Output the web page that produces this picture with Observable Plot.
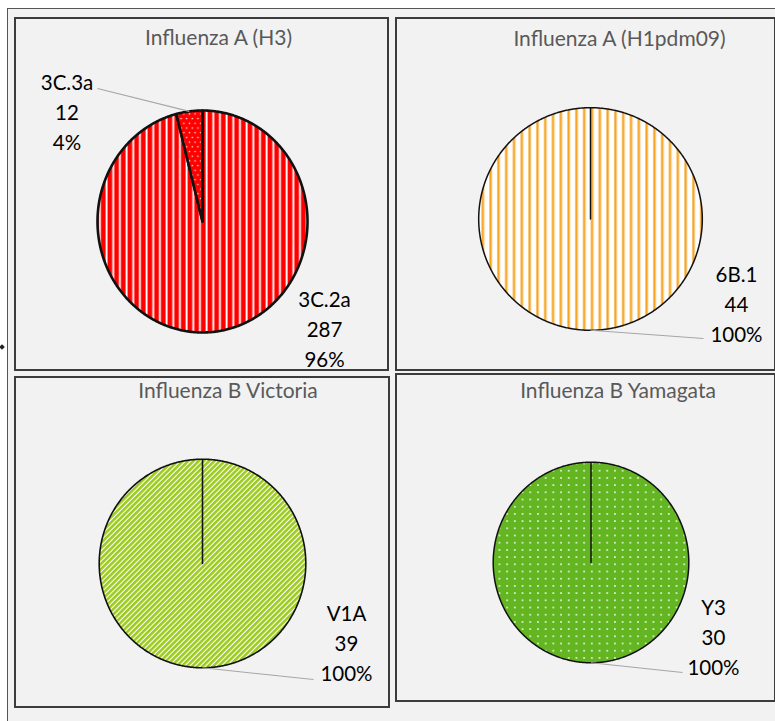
<!DOCTYPE html>
<html>
<head>
<meta charset="utf-8">
<script src="https://cdn.jsdelivr.net/npm/d3@7"></script>
<script src="https://cdn.jsdelivr.net/npm/@observablehq/plot@0.6"></script>
<style>
  html, body { margin: 0; padding: 0; background: #ffffff; overflow: hidden; }
  #wrap { position: relative; width: 775px; height: 721px; overflow: hidden; }
  .outer { position: absolute; left: 7px; top: 8px; width: 820px; height: 760px;
           box-sizing: border-box; border: 1.5px solid #555; background: #f2f2f2; }
  .panel { position: absolute; box-sizing: border-box; border: 2px solid #3c3c3c; background: #f2f2f2; }
  .chart { position: absolute; }
  .mark { position: absolute; left: 0px; top: 345px; width: 4px; height: 4px; background: #222; transform: rotate(45deg); }
</style>
</head>
<body>
<svg width="0" height="0" style="position:absolute">
  <defs>
    <pattern id="pRed" patternUnits="userSpaceOnUse" width="6.67" height="10">
      <rect width="6.67" height="10" fill="#ff0000"/>
      <rect x="4.2" width="0.4" height="10" fill="#ff9a9a"/>
      <rect x="4.6" width="1.7" height="10" fill="#ffffff"/>
      <rect x="6.3" width="0.37" height="10" fill="#ff9a9a"/>
    </pattern>
    <pattern id="pRedDots" patternUnits="userSpaceOnUse" width="5.6" height="9.4">
      <rect width="5.6" height="9.4" fill="#ff0000"/>
      <circle cx="1.4" cy="2.35" r="0.8" fill="#ffffff" opacity="0.9"/>
      <circle cx="4.2" cy="7.05" r="0.8" fill="#ffffff" opacity="0.9"/>
    </pattern>
    <pattern id="pOrange" patternUnits="userSpaceOnUse" width="7.8" height="10">
      <rect width="7.8" height="10" fill="#ffffff"/>
      <rect x="0" width="0.6" height="10" fill="#f9c46e"/>
      <rect x="0.6" width="2.0" height="10" fill="#f5a21c"/>
      <rect x="2.6" width="0.6" height="10" fill="#f9c46e"/>
    </pattern>
    <pattern id="pLime" patternUnits="userSpaceOnUse" width="3.7" height="10" patternTransform="rotate(45)">
      <rect width="3.7" height="10" fill="#ffffff"/>
      <rect width="2.6" height="10" fill="#9ccb1e"/>
    </pattern>
    <pattern id="pGreenDots" patternUnits="userSpaceOnUse" width="7.7" height="7.2">
      <rect width="7.7" height="7.2" fill="#63b521"/>
      <circle cx="3.85" cy="3.6" r="1.0" fill="#ffffff" opacity="0.9"/>
    </pattern>
  </defs>
</svg>
<div id="wrap">
  <div class="outer"></div>
  <div class="mark"></div>
</div>
<script>
// ---- data ----
const titles = ["Influenza A (H3)", "Influenza A (H1pdm09)", "Influenza B Victoria", "Influenza B Yamagata"];
const h3Clades = ["3C.2a", "3C.3a"];
const h3Counts = [287, 12];
const h1Clades = ["6B.1"];
const h1Counts = [44];
const vicClades = ["V1A"];
const vicCounts = [39];
const yamClades = ["Y3"];
const yamCounts = [30];

// ---- layout (pixels) ----
const layout = [
  {clades: h3Clades, counts: h3Counts, box: [14, 17, 375, 354], center: [188, 204], r: [105, 111], sw: 2.6,
   fills: ["url(#pRed)", "url(#pRedDots)"], title: [16.5, 21],
   labels: [{off: [122, 106], leader: null}, {off: [-135.5, -111], leader: [-105, -133]}]},
  {clades: h1Clades, counts: h1Counts, box: [395, 17, 381, 354], center: [195, 201.5], r: [111.8, 111.3], sw: 1.5,
   fills: ["url(#pOrange)"], title: [33.5, 22],
   labels: [{off: [146, 83], leader: [113, 119.5]}]},
  {clades: vicClades, counts: vicCounts, box: [14, 376, 376, 332], center: [188, 187], r: [103.3, 104.3], sw: 1.6,
   fills: ["url(#pLime)"], title: [25.5, 15],
   labels: [{off: [144, 77.5], leader: [111, 116]}]},
  {clades: yamClades, counts: yamCounts, box: [395, 373, 381, 329], center: [195.5, 189], r: [97.8, 100.3], sw: 1.5,
   fills: ["url(#pGreenDots)"], title: [32, 18],
   labels: [{off: [122.5, 72.5], leader: [91.5, 110]}]}
];

const wrap = document.getElementById("wrap");

// panel frames first, so no frame covers another panel's text
layout.forEach(L => {
  const [left, top, W, H] = L.box;
  const panel = document.createElement("div");
  panel.className = "panel";
  Object.assign(panel.style, {left: left + "px", top: top + "px", width: W + "px", height: H + "px"});
  wrap.appendChild(panel);
});

layout.forEach((L, i) => {
  const [left, top, W, H] = L.box;
  const [cx, cy] = L.center;
  const [rx, ry] = L.r;
  const total = d3.sum(L.counts);
  const arcs = d3.pie().sort(null).startAngle(0).endAngle(2 * Math.PI)(L.counts);

  const slices = arcs.map((a, j) => {
    const pts = [{x: 0, y: 0}];
    const n = Math.max(2, Math.ceil((a.endAngle - a.startAngle) / (Math.PI / 360)));
    for (let k = 0; k <= n; k++) {
      const t = a.startAngle + (a.endAngle - a.startAngle) * k / n;
      pts.push({x: Math.sin(t), y: Math.cos(t)});
    }
    const mid = (a.startAngle + a.endAngle) / 2;
    return {
      pts, clade: L.clades[j], count: L.counts[j],
      pct: Math.round(100 * L.counts[j] / total),
      mx: Math.sin(mid), my: Math.cos(mid)
    };
  });

  const labelData = slices.map((s, j) => ({
    text: `${s.clade}\n${s.count}\n${s.pct}%`,
    x: 0, y: 0,
    dx: L.labels[j].off[0], dy: L.labels[j].off[1]
  }));
  const leaders = slices.map((s, j) => L.labels[j].leader ? {
    x1: s.mx, y1: s.my,
    x2: L.labels[j].leader[0] / rx, y2: -L.labels[j].leader[1] / ry
  } : null).filter(Boolean);

  const marks = [];
  slices.forEach((s, j) => {
    marks.push(Plot.line(s.pts, {x: "x", y: "y", curve: "linear-closed",
      fill: L.fills[j], stroke: "#111", strokeWidth: L.sw, strokeLinejoin: "round"}));
  });
  marks.push(Plot.link(leaders, {x1: "x1", y1: "y1", x2: "x2", y2: "y2", stroke: "#a6a6a6", strokeWidth: 1.1}));
  labelData.forEach(d => {
    marks.push(Plot.text([d], {x: "x", y: "y", text: "text", dx: d.dx, dy: d.dy,
      textAnchor: "middle", lineAnchor: "middle", lineHeight: 1.47,
      fontSize: 20.5, fill: "#000", fontFamily: "Lato"}));
  });
  marks.push(Plot.text([titles[i]], {frameAnchor: "top", text: d => d, dx: L.title[0], dy: L.title[1],
    lineAnchor: "middle", fontSize: 21, fill: "#595959", fontFamily: "Lato"}));

  const chart = Plot.plot({
    width: W, height: H, margin: 0,
    x: {domain: [-cx / rx, (W - cx) / rx], range: [0, W], axis: null},
    y: {domain: [-(H - cy) / ry, cy / ry], range: [H, 0], axis: null},
    style: {background: "transparent", overflow: "visible", fontFamily: "Lato"},
    marks
  });

  chart.classList.add("chart");
  Object.assign(chart.style, {position: "absolute", left: left + "px", top: top + "px"});
  wrap.appendChild(chart);
});
</script>
</body>
</html>
